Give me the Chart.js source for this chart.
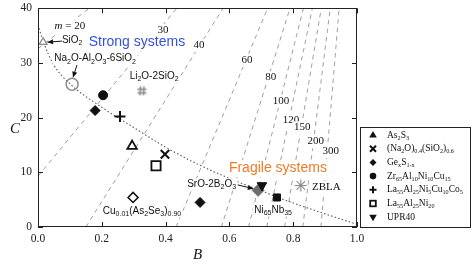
<!DOCTYPE html>
<html><head><meta charset="utf-8">
<script src="https://cdn.jsdelivr.net/npm/chart.js@4"></script>
<style>html,body{margin:0;padding:0;background:#fff;}</style>
</head><body>
<canvas id="c" width="475" height="264"></canvas>
<script>
// ---- axis ticks ----
const xTicks = [0, 0.2, 0.4, 0.6, 0.8, 1.0];
const yTicks = [0, 10, 20, 30, 40];

// ---- constant-fragility (m) reference lines: end points ----
const mValues      = [20, 30, 40, 60, 80, 100, 120, 150, 200, 300];
const mStartB      = [0, 0, 0.15, 0.433, 0.575, 0.66, 0.717, 0.773, 0.83, 0.887];
const mStartC      = [32.6, 9.3, 0, 0, 0, 0, 0, 0, 0, 0];
const mEndB        = [0.16, 0.435, 0.58, 0.72, 0.79, 0.832, 0.86, 0.888, 0.916, 0.944];
const mEndC        = [40, 40, 40, 40, 40, 40, 40, 40, 40, 40];
const mLabelB      = [0.1, 0.392, 0.505, 0.655, 0.73, 0.762, 0.793, 0.828, 0.871, 0.918];
const mLabelC      = [36.8, 36, 33.3, 30.6, 27.4, 23.1, 19.6, 18.2, 15.7, 13.9];

// ---- dotted fit curve ----
const fitB = [0, 0.016, 0.05, 0.1, 0.2, 0.3, 0.4, 0.5, 0.6, 0.7, 0.8, 0.9, 1.0];
const fitC = [37, 34, 29.6, 26.2, 21.9, 18.2, 14.6, 11.5, 8.9, 6.6, 4.4, 2.4, 0.5];

// ---- glass systems ----
const sysNames = ['SiO2', 'Na2O-Al2O3-6SiO2', 'Li2O-2SiO2', 'As2S3', '(Na2O)0.4(SiO2)0.6', 'GexS1-x',
  'Zr65Al10Ni10Cu15', 'La55Al25Ni5Cu10Co5', 'La55Al25Ni20', 'UPR40', 'Cu0.01(As2Se3)0.90',
  'SrO-2B2O3', 'Ni65Nb35', 'ZBLA'];
const sysB = [[0.016], [0.107], [0.326], [0.295], [0.398], [0.179, 0.508], [0.204], [0.257], [0.37], [0.702], [0.298], [0.69], [0.749], [0.824]];
const sysC = [[33.8], [26.1], [24.9], [14.8], [13.3], [21.3, 4.5], [24.1], [20.2], [11.2], [7.6], [5.4], [6.7], [5.4], [7.6]];

// ---- legend ----
const legendLabels = ['As_2S_3', '(Na_2O)_{0.4}(SiO_2)_{0.6}', 'Ge_xS_{1-x}', 'Zr_{65}Al_{10}Ni_{10}Cu_{15}',
  'La_{55}Al_{25}Ni_5Cu_{10}Co_5', 'La_{55}Al_{25}Ni_{20}', 'UPR40'];

// ---------------------------------------------------------------
const hashCanvas = (() => {
  const c = document.createElement('canvas'); c.width = 11; c.height = 11;
  const g = c.getContext('2d'); g.strokeStyle = '#8c8c8c'; g.lineWidth = 1.6;
  g.beginPath();
  g.moveTo(4, 1); g.lineTo(3.5, 10); g.moveTo(7.5, 1); g.lineTo(7, 10);
  g.moveTo(1, 4); g.lineTo(10, 4); g.moveTo(1, 7.5); g.lineTo(10, 7.5);
  g.stroke(); return c;
})();

const sysStyles = [
  {pointStyle: 'triangle', radius: 4.5, bg: '#fff', border: '#8c8c8c', bw: 1.3},
  {pointStyle: 'circle', radius: 6, bg: 'rgba(0,0,0,0)', border: '#8c8c8c', bw: 1.5},
  {pointStyle: hashCanvas, radius: 5, bg: '#fff', border: '#8c8c8c', bw: 1},
  {pointStyle: 'triangle', radius: 5.5, bg: '#fff', border: '#111', bw: 1.8},
  {pointStyle: 'crossRot', radius: 6, bg: '#111', border: '#111', bw: 2},
  {pointStyle: 'rectRot', radius: 5, bg: '#111', border: '#111', bw: 1},
  {pointStyle: 'circle', radius: 4.5, bg: '#111', border: '#111', bw: 1},
  {pointStyle: 'cross', radius: 5.5, bg: '#111', border: '#111', bw: 2},
  {pointStyle: 'rect', radius: 6.5, bg: '#fff', border: '#111', bw: 1.8},
  {pointStyle: 'triangle', radius: 5.5, bg: '#111', border: '#111', bw: 1, rot: 180},
  {pointStyle: 'rectRot', radius: 5, bg: '#fff', border: '#111', bw: 1.6},
  {pointStyle: 'rectRot', radius: 6, bg: '#6e6e6e', border: '#6e6e6e', bw: 1},
  {pointStyle: 'rect', radius: 5, bg: '#111', border: '#111', bw: 1},
  {pointStyle: 'star', radius: 6, bg: '#8c8c8c', border: '#8c8c8c', bw: 1.1}
];

const datasets = [];
sysNames.forEach((n, i) => {
  const s = sysStyles[i];
  datasets.push({
    type: 'scatter', label: n, order: 0,
    data: sysB[i].map((b, k) => ({x: b, y: sysC[i][k]})),
    pointStyle: s.pointStyle, pointRadius: s.radius, pointRotation: s.rot || 0,
    backgroundColor: s.bg, borderColor: s.border, pointBorderWidth: s.bw, pointHoverRadius: s.radius
  });
});
datasets.push({
  type: 'line', label: 'fit', order: 5,
  data: fitB.map((b, i) => ({x: b, y: fitC[i]})),
  borderColor: '#5a5a5a', borderWidth: 1.1, borderDash: [1.5, 2.2], pointRadius: 0,
  cubicInterpolationMode: 'monotone', fill: false
});
mValues.forEach((m, i) => {
  datasets.push({
    type: 'line', label: 'm=' + m, order: 10,
    data: [{x: mStartB[i], y: mStartC[i]}, {x: mEndB[i], y: mEndC[i]}],
    borderColor: '#a0a0a0', borderWidth: 1, borderDash: [4.5, 4], pointRadius: 0, fill: false
  });
});

function parseRich(s) {
  const out = []; const re = /_\{([^}]*)\}|_(.)|\*([^*]*)\*|([^_*]+)/g; let m;
  while ((m = re.exec(s))) {
    if (m[1] !== undefined) out.push({t: m[1], sub: true});
    else if (m[2] !== undefined) out.push({t: m[2], sub: true});
    else if (m[3] !== undefined) out.push({t: m[3], it: true});
    else out.push({t: m[4]});
  }
  return out;
}
function drawRich(ctx, s, x, y, o) {
  const size = o.size || 10, fam = o.family || '"Liberation Sans", Arial, sans-serif';
  const subF = o.subF || 0.7;
  const segs = parseRich(s);
  let w = 0;
  segs.forEach(g => {
    g.font = (g.it || o.italic ? 'italic ' : '') + (g.sub ? size * subF : size) + 'px ' + fam;
    ctx.font = g.font; g.w = ctx.measureText(g.t).width; w += g.w;
  });
  let x0 = o.align === 'center' ? x - w / 2 : o.align === 'right' ? x - w : x;
  if (o.bg) { ctx.fillStyle = '#fff'; ctx.fillRect(x0 - 1.5, y - size * 0.55, w + 3, size * 1.2); }
  ctx.fillStyle = o.color || '#111'; ctx.textBaseline = 'middle'; ctx.textAlign = 'left';
  segs.forEach(g => { ctx.font = g.font; ctx.fillText(g.t, x0, g.sub ? y + size * 0.32 : y); x0 += g.w; });
}
function arrow(ctx, x1, y1, x2, y2) {
  ctx.strokeStyle = '#111'; ctx.fillStyle = '#111'; ctx.lineWidth = 1;
  ctx.beginPath(); ctx.moveTo(x1, y1); ctx.lineTo(x2, y2); ctx.stroke();
  const a = Math.atan2(y2 - y1, x2 - x1), L = 5.5, W = 2.6;
  ctx.beginPath(); ctx.moveTo(x2, y2);
  ctx.lineTo(x2 - L * Math.cos(a) + W * Math.sin(a), y2 - L * Math.sin(a) - W * Math.cos(a));
  ctx.lineTo(x2 - L * Math.cos(a) - W * Math.sin(a), y2 - L * Math.sin(a) + W * Math.cos(a));
  ctx.closePath(); ctx.fill();
}

const annotations = [
  {t: 'SiO_2', B: 0.075, C: 34.2, align: 'left', size: 10},
  {t: 'Na_2O-Al_2O_3-6SiO_2', B: 0.179, C: 30.8, align: 'center', size: 10},
  {t: 'Li_2O-2SiO_2', B: 0.364, C: 27.6, align: 'center', size: 10},
  {t: 'Strong systems', B: 0.31, C: 33.9, align: 'center', size: 14, color: '#3452d8'},
  {t: 'Fragile systems', B: 0.752, C: 10.8, align: 'center', size: 14, color: '#ef7b26'},
  {t: 'Cu_{0.01}(As_2Se_3)_{0.90}', B: 0.326, C: 2.9, align: 'center', size: 10},
  {t: 'SrO-2B_2O_3', B: 0.621, C: 7.9, align: 'right', size: 10},
  {t: 'Ni_{65}Nb_{35}', B: 0.737, C: 3.1, align: 'center', size: 10},
  {t: 'ZBLA', B: 0.859, C: 7.3, align: 'left', size: 11, family: '"Liberation Serif", "Times New Roman", serif'}
];
const arrows = [
  {B1: 0.075, C1: 34.0, B2: 0.03, C2: 33.8},
  {B1: 0.122, C1: 29.6, B2: 0.11, C2: 27.4},
  {B1: 0.626, C1: 7.7, B2: 0.675, C2: 7.0}
];

const serif = '"Liberation Serif", "Times New Roman", serif';

function legendMarker(ctx, k, x, y) {
  ctx.fillStyle = '#111'; ctx.strokeStyle = '#111'; ctx.lineWidth = 2;
  ctx.beginPath();
  switch (k) {
    case 0: ctx.moveTo(x, y - 4); ctx.lineTo(x + 3.8, y + 2.5); ctx.lineTo(x - 3.8, y + 2.5); ctx.closePath(); ctx.fill(); break;
    case 1: ctx.moveTo(x - 3, y - 3); ctx.lineTo(x + 3, y + 3); ctx.moveTo(x + 3, y - 3); ctx.lineTo(x - 3, y + 3); ctx.stroke(); break;
    case 2: ctx.moveTo(x, y - 3.5); ctx.lineTo(x + 3.5, y); ctx.lineTo(x, y + 3.5); ctx.lineTo(x - 3.5, y); ctx.closePath(); ctx.fill(); break;
    case 3: ctx.arc(x, y, 3.3, 0, Math.PI * 2); ctx.fill(); break;
    case 4: ctx.moveTo(x - 3.5, y); ctx.lineTo(x + 3.5, y); ctx.moveTo(x, y - 3.5); ctx.lineTo(x, y + 3.5); ctx.stroke(); break;
    case 5: ctx.lineWidth = 1.8; ctx.strokeRect(x - 2.8, y - 2.8, 5.6, 5.6); break;
    case 6: ctx.moveTo(x, y + 4); ctx.lineTo(x + 3.8, y - 2.5); ctx.lineTo(x - 3.8, y - 2.5); ctx.closePath(); ctx.fill(); break;
  }
}

const decor = {
  id: 'decor',
  afterDatasetsDraw(chart) {
    const ctx = chart.ctx, xs = chart.scales.x, ys = chart.scales.y;
    ctx.save();
    mValues.forEach((m, i) => {
      const x = xs.getPixelForValue(mLabelB[i]), y = ys.getPixelForValue(mLabelC[i]);
      drawRich(ctx, i === 0 ? '*m* = ' + m : String(m), x, y, {size: 11, family: serif, align: 'center', bg: true});
    });
    annotations.forEach(n => {
      drawRich(ctx, n.t, xs.getPixelForValue(n.B), ys.getPixelForValue(n.C),
        {size: n.size, family: n.family, align: n.align, bg: true, color: n.color});
    });
    arrows.forEach(r => arrow(ctx, xs.getPixelForValue(r.B1), ys.getPixelForValue(r.C1),
      xs.getPixelForValue(r.B2), ys.getPixelForValue(r.C2)));
    ctx.restore();
  },
  afterDraw(chart) {
    const ctx = chart.ctx, xs = chart.scales.x, ys = chart.scales.y, a = chart.chartArea;
    ctx.save();
    ctx.strokeStyle = '#222'; ctx.lineWidth = 1;
    ctx.strokeRect(Math.round(a.left) + 0.5, Math.round(a.top) + 0.5, Math.round(a.right - a.left) - 1, Math.round(a.bottom - a.top) - 1);
    ctx.beginPath();
    xTicks.forEach(v => {
      const x = Math.round(xs.getPixelForValue(v)) + 0.5;
      ctx.moveTo(x, a.bottom); ctx.lineTo(x, a.bottom - 5);
      ctx.moveTo(x, a.top); ctx.lineTo(x, a.top + 5);
    });
    yTicks.forEach(v => {
      const y = Math.round(ys.getPixelForValue(v)) + 0.5;
      ctx.moveTo(a.left, y); ctx.lineTo(a.left + 5, y);
      ctx.moveTo(a.right, y); ctx.lineTo(a.right - 5, y);
    });
    ctx.stroke();
    drawRich(ctx, 'C', 15, 129, {size: 15, family: serif, italic: true, align: 'center'});
    drawRich(ctx, 'B', (a.left + a.right) / 2, 255, {size: 15, family: serif, italic: true, align: 'center'});
    const lx = 360, ly = 127, lw = 110, lh = 100;
    ctx.fillStyle = '#fff'; ctx.fillRect(lx, ly, lw, lh);
    ctx.strokeStyle = '#222'; ctx.lineWidth = 1; ctx.strokeRect(lx + 0.5, ly + 0.5, lw, lh);
    legendLabels.forEach((t, k) => {
      const y = 135 + k * 13.7;
      legendMarker(ctx, k, 373, y);
      drawRich(ctx, t, 387, y, {size: 9.5, subF: 0.65, family: serif, align: 'left'});
    });
    ctx.restore();
  }
};

new Chart(document.getElementById('c'), {
  data: {datasets},
  options: {
    responsive: false, devicePixelRatio: 1, animation: false,
    layout: {padding: {left: 0, right: 118, top: 5, bottom: 0}},
    plugins: {legend: {display: false}, tooltip: {enabled: false}},
    scales: {
      x: {
        type: 'linear', min: 0, max: 1,
        afterFit(s) { s.height = 37; s.paddingLeft = 0; s.paddingRight = 0; },
        afterBuildTicks(s) { s.ticks = xTicks.map(v => ({value: v})); },
        grid: {display: false, drawTicks: false}, border: {display: false},
        ticks: {padding: 5, color: '#222', font: {family: serif, size: 11.5}, callback: v => Number(v).toFixed(1), maxRotation: 0}
      },
      y: {
        type: 'linear', min: 0, max: 40,
        afterFit(s) { s.width = 38; s.paddingTop = 0; s.paddingBottom = 0; },
        afterBuildTicks(s) { s.ticks = yTicks.map(v => ({value: v})); },
        grid: {display: false, drawTicks: false}, border: {display: false},
        ticks: {padding: 6, color: '#222', font: {family: serif, size: 11.5}}
      }
    }
  },
  plugins: [decor]
});
</script>
</body></html>
